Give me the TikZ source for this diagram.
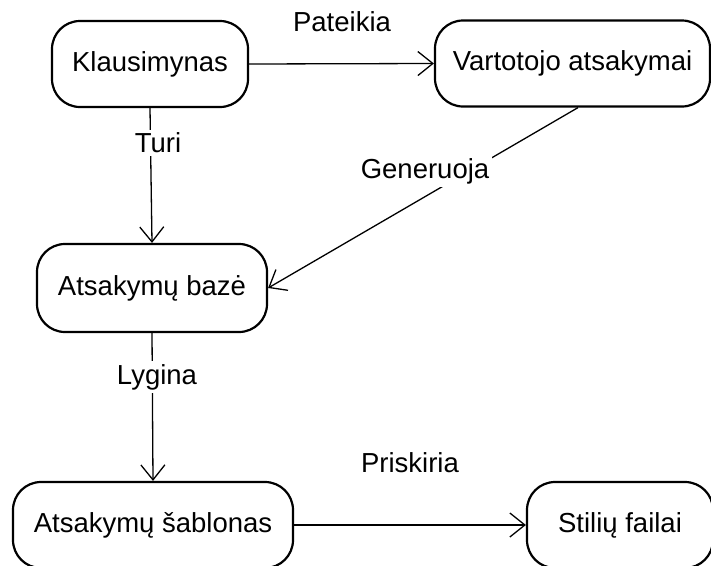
\documentclass[tikz,border=0pt]{standalone}
\usepackage{fontspec}
\setmainfont{Liberation Sans}
\usetikzlibrary{arrows.meta}
\begin{document}
\begin{tikzpicture}[x=1pt,y=-1pt,
  box/.style={draw=black, line width=2.2pt, rounded corners=28pt, align=center,
    font=\fontsize{27.5}{32}\selectfont, inner sep=0pt},
  link/.style={draw=black, line width=1.3pt,
    -{Straight Barb[length=15pt,width=24pt,line width=1.3pt]}},
  lbl/.style={fill=white, inner sep=3pt, font=\fontsize{27.5}{32}\selectfont}]
\useasboundingbox (0,0) rectangle (711,565);
\fill[white] (0,0) rectangle (711,565);

% activities
\node[box, minimum width=196pt, minimum height=86pt] (klaus) at (150,64) {Klausimynas};
\node[box, minimum width=275pt, minimum height=86pt] (vart) at (572.5,63.5) {Vartotojo atsakymai};
\node[box, minimum width=230pt, minimum height=88pt] (baze) at (152,288) {Atsakymų bazė};
\node[box, minimum width=280pt, minimum height=86pt] (sabl) at (153,525) {Atsakymų šablonas};
\node[box, minimum width=186pt, minimum height=86pt] (stil) at (620,525) {Stilių failai};

% flows between them
\draw[link] (klaus.east) -- (vart.west);
\draw[link] (klaus.south) -- (baze.north);
\draw[link] ([xshift=5.5pt]vart.south) -- (baze.east);
\draw[link] (baze.south) -- (sabl.north);
\draw[link] (sabl.east) -- (stil.west);

% flow labels
\node[lbl] (lpat) at (342,22) {Pateikia};
\node[lbl] (ltur) at (158,143) {Turi};
\node[lbl] (lgen) at (425,171) {Generuoja};
\node[lbl] (llyg) at (157,377) {Lygina};
\node[lbl] (lpri) at (410,463) {Priskiria};
\end{tikzpicture}
\end{document}
